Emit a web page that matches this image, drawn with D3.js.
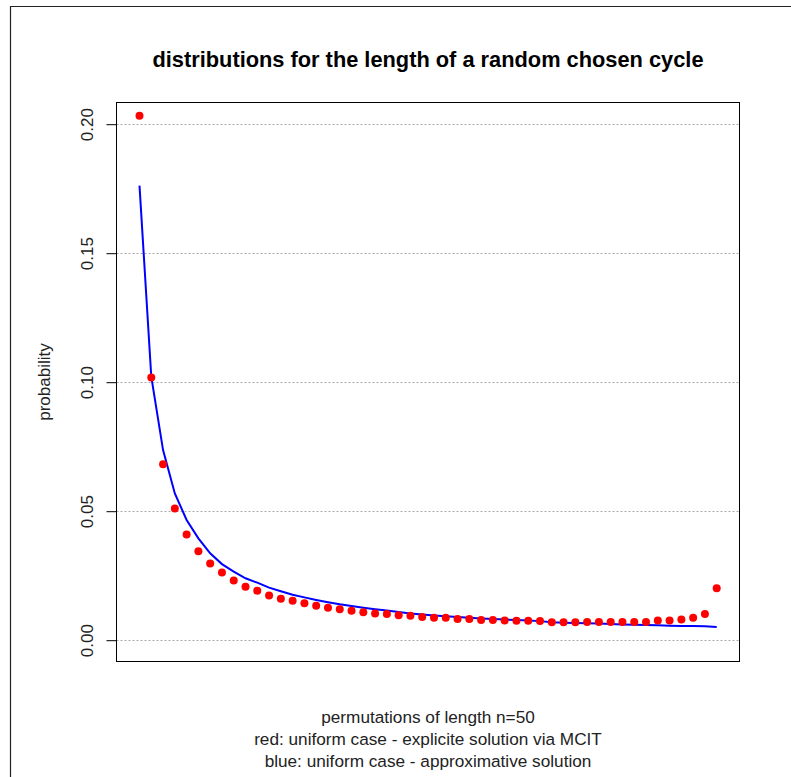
<!DOCTYPE html>
<html>
<head>
<meta charset="utf-8">
<script src="https://cdn.jsdelivr.net/npm/d3@7"></script>
<style>
  body { margin: 0; background: #fff; }
  text { font-family: "Liberation Sans", Arial, sans-serif; }
</style>
</head>
<body>
<div id="chart"></div>
<script>
/* CONSTANTS AND GLOBALS */
const width = 791,
  height = 777,
  box = {left: 116.5, right: 739.5, top: 102.5, bottom: 661.5};

// cycle length k = 1..50
const lengths = d3.range(1, 51);

// red: uniform case - explicite solution via MCIT
const redProb = [0.2031, 0.1016, 0.0680, 0.0509, 0.0408, 0.0343, 0.0295, 0.0260, 0.0229, 0.0205,
  0.0190, 0.0171, 0.0159, 0.0151, 0.0141, 0.0132, 0.0124, 0.0118, 0.0112, 0.0106,
  0.0102, 0.0100, 0.0095, 0.0093, 0.0088, 0.0085, 0.0085, 0.0080, 0.0080, 0.0076,
  0.0076, 0.0074, 0.0073, 0.0073, 0.0072, 0.0068, 0.0068, 0.0068, 0.0069, 0.0069,
  0.0069, 0.0069, 0.0069, 0.0069, 0.0074, 0.0074, 0.0078, 0.0085, 0.0100, 0.0199];

// blue: uniform case - approximative solution
const blueProb = [0.1760, 0.1020, 0.0735, 0.0567, 0.0464, 0.0393, 0.0335, 0.0293, 0.0264, 0.0238,
  0.0221, 0.0202, 0.0188, 0.0174, 0.0164, 0.0154, 0.0145, 0.0137, 0.0131, 0.0124,
  0.0118, 0.0113, 0.0107, 0.0102, 0.0098, 0.0094, 0.0091, 0.0088, 0.0085, 0.0082,
  0.0080, 0.0078, 0.0076, 0.0074, 0.0072, 0.0068, 0.0066, 0.0065, 0.0064, 0.0063,
  0.0061, 0.0059, 0.0058, 0.0057, 0.0056, 0.0054, 0.0053, 0.0053, 0.0052, 0.0049];

const yTicks = [0, 0.05, 0.10, 0.15, 0.20];

const title = "distributions for the length of a random chosen cycle";
const yLabel = "probability";
const xLabelLines = ["permutations of length n=50",
  "red: uniform case - explicite solution via MCIT",
  "blue: uniform case - approximative solution"];

/* SCALES */
const xScale = d3.scaleLinear()
  .domain([1, 50])
  .range([139.5, 716.7]);

const yScale = d3.scaleLinear()
  .domain([0, 0.2])
  .range([639.7, 123.7]);

const svg = d3.select("#chart")
  .append("svg")
  .attr("width", width)
  .attr("height", height);

// outer frame (top + left edge)
svg.append("path")
  .attr("d", `M10.5,${height} V6.5 H${width}`)
  .attr("fill", "none")
  .attr("stroke", "#222")
  .attr("stroke-width", 1.2);

// grid lines
svg.selectAll(".grid")
  .data(yTicks)
  .join("line")
  .attr("class", "grid")
  .attr("x1", box.left)
  .attr("x2", box.right)
  .attr("y1", d => Math.round(yScale(d)) + 0.5)
  .attr("y2", d => Math.round(yScale(d)) + 0.5)
  .attr("stroke", "#aaaaaa")
  .attr("stroke-dasharray", "2,2");

// y axis
const yAxis = d3.axisLeft(yScale)
  .tickValues(yTicks)
  .tickFormat(d3.format(".2f"))
  .tickSize(10)
  .tickSizeOuter(0);

const yAxisGroup = svg.append("g")
  .attr("transform", `translate(${box.left},0.5)`)
  .call(yAxis);

yAxisGroup.select(".domain").remove();
yAxisGroup.selectAll("line").attr("stroke", "#000");
yAxisGroup.selectAll("text")
  .attr("transform", "rotate(-90)")
  .attr("x", 0)
  .attr("y", -24)
  .attr("dy", 0)
  .attr("text-anchor", "middle")
  .attr("fill", "#222")
  .style("font-size", "17px")
  .style("font-family", "Liberation Sans, Arial, sans-serif");

// plot box
svg.append("rect")
  .attr("x", box.left)
  .attr("y", box.top)
  .attr("width", box.right - box.left)
  .attr("height", box.bottom - box.top)
  .attr("fill", "none")
  .attr("stroke", "#000");

// blue line
const lineGen = d3.line()
  .x((d, i) => xScale(lengths[i]))
  .y(d => yScale(d));

svg.append("path")
  .datum(blueProb)
  .attr("d", lineGen)
  .attr("fill", "none")
  .attr("stroke", "#0000ff")
  .attr("stroke-width", 2);

// red points
svg.selectAll(".pt")
  .data(redProb)
  .join("circle")
  .attr("class", "pt")
  .attr("cx", (d, i) => xScale(lengths[i]))
  .attr("cy", d => yScale(d))
  .attr("r", 4)
  .attr("fill", "#ff0000");

// title
svg.append("text")
  .attr("x", (box.left + box.right) / 2)
  .attr("y", 67)
  .attr("text-anchor", "middle")
  .attr("font-weight", "bold")
  .style("font-size", "21.8px")
  .attr("fill", "#000")
  .text(title);

// y label
svg.append("text")
  .attr("transform", `translate(50,${(box.top + box.bottom) / 2}) rotate(-90)`)
  .attr("text-anchor", "middle")
  .style("font-size", "17px")
  .attr("fill", "#222")
  .text(yLabel);

// x label lines
svg.selectAll(".xlab")
  .data(xLabelLines)
  .join("text")
  .attr("class", "xlab")
  .attr("x", (box.left + box.right) / 2)
  .attr("y", (d, i) => 723 + i * 22)
  .attr("text-anchor", "middle")
  .style("font-size", "17.2px")
  .attr("fill", "#222")
  .text(d => d);
</script>
</body>
</html>
